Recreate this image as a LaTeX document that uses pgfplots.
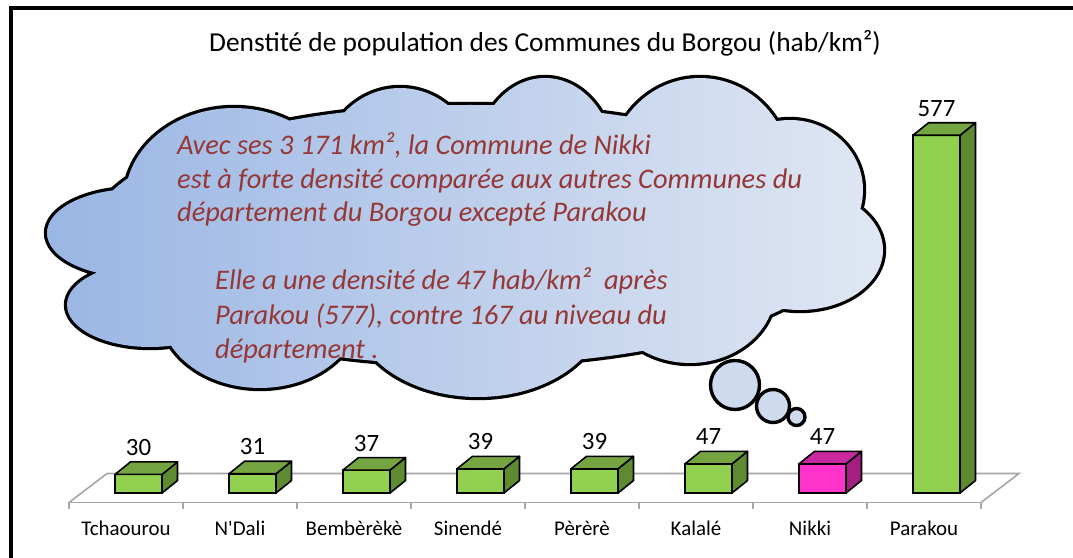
\documentclass[border=0pt]{standalone}
\usepackage{fontspec}
\setmainfont{Carlito}
\usepackage{pgfplots}
\pgfplotsset{compat=1.18}
\usepackage{pgfplotstable}

\definecolor{gfront}{HTML}{92D050}
\definecolor{gtop}{HTML}{75A540}
\definecolor{gside}{HTML}{5E8A30}
\definecolor{mfront}{HTML}{FF33CC}
\definecolor{mtop}{HTML}{C9289E}
\definecolor{mside}{HTML}{A51F82}
\definecolor{txtred}{HTML}{953735}
\definecolor{cloudL}{HTML}{9AB6E4}
\definecolor{cloudR}{HTML}{E0E7F3}
\definecolor{floorgray}{HTML}{A6A6A6}

\newdimen\barh

\pgfplotstableread{
x v
0 30
1 31
2 37
3 39
4 39
5 47
6 47
7 577
}\datatable

\def\cloudpath{%
  (234bp,358bp) ellipse [x radius=109bp, y radius=92bp]
  (400bp,383bp) ellipse [x radius=80bp, y radius=87bp]
  (545bp,393bp) ellipse [x radius=70bp, y radius=87bp]
  (700bp,388bp) ellipse [x radius=90bp, y radius=92bp]
  (790bp,368bp) ellipse [x radius=73bp, y radius=70bp]
  (800bp,308bp) ellipse [x radius=83bp, y radius=60bp]
  (690bp,268bp) ellipse [x radius=85bp, y radius=73bp]
  (478bp,248bp) ellipse [x radius=125bp, y radius=87bp]
  (260bp,248bp) ellipse [x radius=100bp, y radius=78bp]
  (150bp,253bp) ellipse [x radius=83bp, y radius=42bp]
  (135bp,325bp) ellipse [x radius=88bp, y radius=44bp]
  (470bp,323bp) ellipse [x radius=380bp, y radius=130bp]}

\begin{document}
\begin{tikzpicture}
\useasboundingbox (0,0) rectangle (1073bp,558bp);
\fill[white] (0,0) rectangle (1073bp,558bp);
\begin{axis}[
  at={(69bp,55.5bp)}, anchor=south west,
  x=114bp, y=0.62bp,
  xmin=-0.5, xmax=7.5, ymin=-15.3, ymax=600,
  clip=false,
  axis y line=none,
  axis x line*=bottom,
  x axis line style={draw=floorgray, line width=1.6bp},
  xtick={0,...,7},
  xticklabels={Tchaourou, N\textquotesingle Dali, Bembèrèkè, Sinendé, Pèrèrè, Kalalé, Nikki, Parakou},
  major tick length=0pt,
  minor xtick={-0.5,0.5,1.5,2.5,3.5,4.5,5.5,6.5,7.5},
  minor tick length=6bp,
  tick align=outside,
  minor tick style={draw=floorgray, line width=1.6bp},
  xticklabel style={anchor=base, yshift=-33bp, font=\fontsize{21}{25}\selectfont},
  /pgf/number format/assume math mode=true,
]
\draw[floorgray, line width=1.6bp] (axis cs:-0.5,-15.3) -- ++(38bp,29bp) -- ([xshift=38bp,yshift=29bp]axis cs:7.5,-15.3) -- (axis cs:7.5,-15.3);

\addplot[ybar, bar width=47bp, bar shift=12.5bp, fill=gfront, draw=black, line width=1.6bp,
  nodes near coords,
  every node near coord/.append style={anchor=base, xshift=12.5bp, yshift=19bp, font=\fontsize{25}{30}\selectfont, text=black}]
  table[x=x,y=v]{\datatable};
\addplot[ybar, bar width=47bp, bar shift=12.5bp, fill=mfront, draw=black, line width=1.6bp,
  restrict x to domain=5.5:6.5]
  table[x=x,y=v]{\datatable};

\addplot[only marks, scatter, mark=*, mark size=0.001pt, mark options={draw=none, fill=none},
  visualization depends on={rawy \as \rawv},
  visualization depends on={rawx \as \rawxx},
  scatter/@pre marker code/.code={%
    \barh=\rawv bp\relax \barh=0.62\barh
    \ifdim\rawxx pt=6pt \def\tc{mtop}\def\sc{mside}\else\def\tc{gtop}\def\sc{gside}\fi
    \filldraw[fill=\sc, draw=black, line width=1.6bp, line join=round]
      (36bp,0pt) -- (51.5bp,12.5bp) -- (51.5bp,12.5bp-\barh) -- (36bp,-\barh) -- cycle;
    \filldraw[fill=\tc, draw=black, line width=1.6bp, line join=round]
      (-11bp,0pt) -- (36bp,0pt) -- (51.5bp,12.5bp) -- (4.5bp,12.5bp) -- cycle;
  },
  scatter/@post marker code/.code={}
] table[x=x,y=v]{\datatable};
\end{axis}

% thought cloud
\draw[line width=6.4bp] \cloudpath;
\shade[left color=cloudL, right color=cloudR] \cloudpath;
\filldraw[fill=cloudR!75!cloudL, draw=black, line width=3.4bp] (735bp,173bp) circle (24.5bp);
\filldraw[fill=cloudR!75!cloudL, draw=black, line width=3.4bp] (773bp,152bp) circle (16.5bp);
\filldraw[fill=cloudR!75!cloudL, draw=black, line width=3.4bp] (796.5bp,141bp) circle (8.5bp);

\begin{scope}[every node/.style={anchor=base west, inner sep=0pt, text=txtred, font=\itshape\fontsize{28.5}{33}\selectfont}]
\node at (177bp,403bp) {Avec ses 3 171 km², la Commune de Nikki};
\node at (177bp,369.5bp) {est à forte densité comparée aux autres Communes du};
\node at (177bp,336bp) {département du Borgou excepté Parakou};
\node at (215bp,268bp) {Elle a une densité de 47 hab/km²~ après};
\node at (215bp,233bp) {Parakou (577), contre 167 au niveau du};
\node at (215bp,199bp) {département .};
\end{scope}

\node[anchor=base, inner sep=0pt, font=\fontsize{27.5}{32}\selectfont] at (545bp,506bp) {Denstité de population des Communes du Borgou (hab/km²)};

\draw[line width=4bp] (10.5bp,-5bp) -- (10.5bp,550bp) -- (1080bp,550bp);
\end{tikzpicture}
\end{document}
